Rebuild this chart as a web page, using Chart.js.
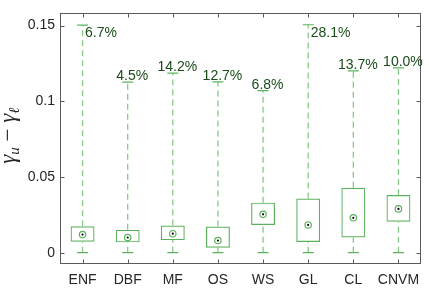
<!DOCTYPE html>
<html>
<head>
<meta charset="utf-8">
<script src="https://cdn.jsdelivr.net/npm/chart.js@4/dist/chart.umd.min.js"></script>
<style>
  html, body { margin: 0; padding: 0; background: #fff; }
</style>
</head>
<body>
<canvas id="box-chart" width="429" height="289"></canvas>
<script>

var categories = ['ENF', 'DBF', 'MF', 'OS', 'WS', 'GL', 'CL', 'CNVM'];
var whisker_low = [0, 0, 0, 0, 0, 0, 0, 0];
var box_q1 = [0.0072, 0.0068, 0.0083, 0.0032, 0.0183, 0.0070, 0.0100, 0.0204];
var box_median = [0.0119, 0.0100, 0.0125, 0.0080, 0.0253, 0.0183, 0.0230, 0.0289];
var box_q3 = [0.0174, 0.0151, 0.0179, 0.0172, 0.0330, 0.0358, 0.0428, 0.0381];
var whisker_high = [0.1503, 0.1126, 0.1185, 0.1128, 0.1070, 0.1505, 0.1200, 0.1220];
var outlier_share = ['6.7%', '4.5%', '14.2%', '12.7%', '6.8%', '28.1%', '13.7%', '10.0%'];
var y_ticks = [0, 0.05, 0.1, 0.15];

var box_green = 'rgb(92,178,92)';
var dash_green = 'rgb(135,202,135)';
var label_green = 'rgb(25,75,25)';
var axis_grey = '#5a5a5a';
var font_main = '"Liberation Sans", Arial, sans-serif';

// whisker segments, q3 -> max and min -> q1, split with nulls
var whisker_points = [];
categories.forEach(function (c, i) {
  whisker_points.push({x: c, y: box_q3[i]}, {x: c, y: whisker_high[i]}, {x: c, y: null});
  whisker_points.push({x: c, y: whisker_low[i]}, {x: c, y: box_q1[i]}, {x: c, y: null});
});

var cap_points = [];
categories.forEach(function (c, i) {
  cap_points.push({x: c, y: whisker_high[i]}, {x: c, y: whisker_low[i]});
});

var median_points = categories.map(function (c, i) { return {x: c, y: box_median[i]}; });

// frame, inward ticks, percent labels and the axis title
const matlab_look = {
  id: 'matlab_look',
  afterDraw: function (chart) {
    const ctx = chart.ctx;
    const a = chart.chartArea;
    const xs = chart.scales.x;
    const ys = chart.scales.y;
    const L = Math.round(a.left) + 0.5, R = Math.round(a.right) - 0.5;
    const T = Math.round(a.top) + 0.5, B = Math.round(a.bottom) - 0.5;
    ctx.save();
    ctx.strokeStyle = axis_grey;
    ctx.lineWidth = 1;
    ctx.strokeRect(L, T, R - L, B - T);
    ctx.beginPath();
    y_ticks.forEach(function (v) {
      const py = Math.round(ys.getPixelForValue(v)) + 0.5;
      ctx.moveTo(L, py); ctx.lineTo(L + 4, py);
      ctx.moveTo(R, py); ctx.lineTo(R - 4, py);
    });
    categories.forEach(function (c, i) {
      const px = Math.round(xs.getPixelForValue(i)) + 0.5;
      ctx.moveTo(px, T); ctx.lineTo(px, T + 4);
      ctx.moveTo(px, B); ctx.lineTo(px, B - 4);
    });
    ctx.stroke();

    ctx.fillStyle = label_green;
    ctx.font = '14px ' + font_main;
    categories.forEach(function (c, i) {
      const px = xs.getPixelForValue(i);
      const py = ys.getPixelForValue(whisker_high[i]);
      if (py - a.top < 22) {
        ctx.textAlign = 'left';
        ctx.textBaseline = 'top';
        ctx.fillText(outlier_share[i], px + 2.5, py + 1);
      } else {
        ctx.textAlign = 'center';
        ctx.textBaseline = 'alphabetic';
        ctx.fillText(outlier_share[i], px + 4.5, py - 2);
      }
    });

    // y title: gamma_u - gamma_l, rotated
    ctx.translate(15, (a.top + a.bottom) / 2 - 3);
    ctx.rotate(-Math.PI / 2);
    ctx.fillStyle = '#262626';
    ctx.textAlign = 'left';
    ctx.textBaseline = 'alphabetic';
    const big = 'italic 23px "Liberation Serif", "DejaVu Serif", serif';
    const small = 'italic 15px "Liberation Serif", "DejaVu Serif", serif';
    const up = '23px "Liberation Serif", "DejaVu Serif", serif';
    const parts = [
      {t: 'γ', f: big, dy: 0},
      {t: 'u', f: small, dy: 4},
      {t: ' − ', f: up, dy: 0},
      {t: 'γ', f: big, dy: 0},
      {t: 'ℓ', f: small, dy: 4}
    ];
    let total = 0;
    parts.forEach(function (p) { ctx.font = p.f; p.w = ctx.measureText(p.t).width; total += p.w; });
    let x0 = -total / 2;
    parts.forEach(function (p) { ctx.font = p.f; ctx.fillText(p.t, x0, p.dy); x0 += p.w; });
    ctx.restore();
  }
};

const box_data = {
  labels: categories,
  datasets: [{
    type: 'line',
    label: 'whiskers',
    data: whisker_points,
    borderColor: dash_green,
    borderWidth: 1.3,
    borderDash: [6, 4],
    pointRadius: 0,
    spanGaps: false,
    order: 4
  }, {
    type: 'bar',
    label: 'boxes',
    data: box_q1.map(function (v, i) { return [v, box_q3[i]]; }),
    backgroundColor: 'rgba(255,255,255,0)',
    borderColor: box_green,
    borderWidth: 1.2,
    borderSkipped: false,
    barPercentage: 0.53,
    categoryPercentage: 1,
    order: 3
  }, {
    type: 'line',
    label: 'caps',
    data: cap_points,
    showLine: false,
    pointStyle: 'line',
    pointRadius: 5.5,
    borderColor: box_green,
    pointBorderWidth: 1.2,
    order: 2
  }, {
    type: 'line',
    label: 'median ring',
    data: median_points,
    showLine: false,
    pointStyle: 'circle',
    pointRadius: 3.2,
    pointBorderWidth: 1.2,
    pointBorderColor: box_green,
    pointBackgroundColor: '#fff',
    order: 1
  }, {
    type: 'line',
    label: 'median dot',
    data: median_points,
    showLine: false,
    pointStyle: 'circle',
    pointRadius: 1.1,
    pointBorderWidth: 0,
    pointBackgroundColor: '#000',
    order: 0
  }]
};

const box_config = {
  type: 'bar',
  data: box_data,
  options: {
    responsive: false,
    animation: false,
    devicePixelRatio: 1,
    layout: { padding: { top: 5, right: 8, left: 0, bottom: 0 } },
    plugins: { legend: { display: false }, tooltip: { enabled: false } },
    scales: {
      x: {
        type: 'category',
        offset: true,
        grid: { display: false, drawTicks: false },
        border: { display: false },
        ticks: { color: '#262626', font: { family: font_main, size: 14 }, padding: 8, maxRotation: 0, autoSkip: false },
        afterFit: function (s) { s.height = 25; }
      },
      y: {
        min: -0.0075,
        max: 0.158,
        grid: { display: false, drawTicks: false },
        border: { display: false },
        afterBuildTicks: function (s) { s.ticks = y_ticks.map(function (v) { return {value: v}; }); },
        ticks: {
          color: '#262626',
          font: { family: font_main, size: 14 },
          padding: 5,
          callback: function (v) { return String(+v.toFixed(2)); }
        },
        afterFit: function (s) { s.width = 60; }
      }
    }
  },
  plugins: [matlab_look]
};

const box_chart = new Chart(document.getElementById('box-chart'), box_config);
</script>
</body>
</html>
